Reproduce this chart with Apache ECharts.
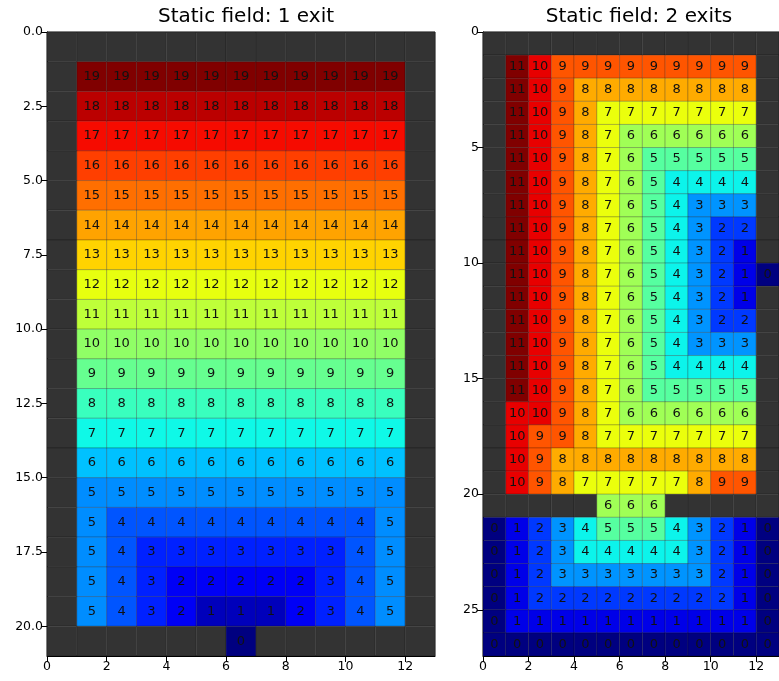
<!DOCTYPE html>
<html>
<head>
<meta charset="utf-8">
<script src="https://cdn.jsdelivr.net/npm/echarts@6/dist/echarts.min.js"></script>
<style>html,body{margin:0;padding:0;background:#fff}#c{width:779px;height:681px}</style>
</head>
<body>
<div id="c"></div>
<script>
const W = null; // wall cell

const title1 = 'Static field: 1 exit';
const title2 = 'Static field: 2 exits';

const field1 = [
  [W,W,W,W,W,W,W,W,W,W,W,W,W],
  [W,19,19,19,19,19,19,19,19,19,19,19,W],
  [W,18,18,18,18,18,18,18,18,18,18,18,W],
  [W,17,17,17,17,17,17,17,17,17,17,17,W],
  [W,16,16,16,16,16,16,16,16,16,16,16,W],
  [W,15,15,15,15,15,15,15,15,15,15,15,W],
  [W,14,14,14,14,14,14,14,14,14,14,14,W],
  [W,13,13,13,13,13,13,13,13,13,13,13,W],
  [W,12,12,12,12,12,12,12,12,12,12,12,W],
  [W,11,11,11,11,11,11,11,11,11,11,11,W],
  [W,10,10,10,10,10,10,10,10,10,10,10,W],
  [W,9,9,9,9,9,9,9,9,9,9,9,W],
  [W,8,8,8,8,8,8,8,8,8,8,8,W],
  [W,7,7,7,7,7,7,7,7,7,7,7,W],
  [W,6,6,6,6,6,6,6,6,6,6,6,W],
  [W,5,5,5,5,5,5,5,5,5,5,5,W],
  [W,5,4,4,4,4,4,4,4,4,4,5,W],
  [W,5,4,3,3,3,3,3,3,3,4,5,W],
  [W,5,4,3,2,2,2,2,2,3,4,5,W],
  [W,5,4,3,2,1,1,1,2,3,4,5,W],
  [W,W,W,W,W,W,0,W,W,W,W,W,W]
];

const field2 = [
  [W,W,W,W,W,W,W,W,W,W,W,W,W],
  [W,11,10,9,9,9,9,9,9,9,9,9,W],
  [W,11,10,9,8,8,8,8,8,8,8,8,W],
  [W,11,10,9,8,7,7,7,7,7,7,7,W],
  [W,11,10,9,8,7,6,6,6,6,6,6,W],
  [W,11,10,9,8,7,6,5,5,5,5,5,W],
  [W,11,10,9,8,7,6,5,4,4,4,4,W],
  [W,11,10,9,8,7,6,5,4,3,3,3,W],
  [W,11,10,9,8,7,6,5,4,3,2,2,W],
  [W,11,10,9,8,7,6,5,4,3,2,1,W],
  [W,11,10,9,8,7,6,5,4,3,2,1,0],
  [W,11,10,9,8,7,6,5,4,3,2,1,W],
  [W,11,10,9,8,7,6,5,4,3,2,2,W],
  [W,11,10,9,8,7,6,5,4,3,3,3,W],
  [W,11,10,9,8,7,6,5,4,4,4,4,W],
  [W,11,10,9,8,7,6,5,5,5,5,5,W],
  [W,10,10,9,8,7,6,6,6,6,6,6,W],
  [W,10,9,9,8,7,7,7,7,7,7,7,W],
  [W,10,9,8,8,8,8,8,8,8,8,8,W],
  [W,10,9,8,7,7,7,7,7,8,9,9,W],
  [W,W,W,W,W,6,6,6,W,W,W,W,W],
  [0,1,2,3,4,5,5,5,4,3,2,1,0],
  [0,1,2,3,4,4,4,4,4,3,2,1,0],
  [0,1,2,3,3,3,3,3,3,3,2,1,0],
  [0,1,2,2,2,2,2,2,2,2,2,1,0],
  [0,1,1,1,1,1,1,1,1,1,1,1,0],
  [0,0,0,0,0,0,0,0,0,0,0,0,0]
];

const xTicks1 = [0, 2, 4, 6, 8, 10, 12];
const yTicks1 = [0, 2.5, 5, 7.5, 10, 12.5, 15, 17.5, 20];
const xTicks2 = [0, 2, 4, 6, 8, 10, 12];
const yTicks2 = [0, 5, 10, 15, 20, 25];

// matplotlib 'jet' colormap (256-entry LUT)
const jetSeg = {
  r: [[0,0],[0.35,0],[0.66,1],[0.89,1],[1,0.5]],
  g: [[0,0],[0.125,0],[0.375,1],[0.64,1],[0.91,0],[1,0]],
  b: [[0,0.5],[0.11,1],[0.34,1],[0.65,0],[1,0]]
};
function seg(pts, t) {
  for (let i = 1; i < pts.length; i++) {
    if (t <= pts[i][0]) {
      const a = pts[i-1], b = pts[i];
      return a[1] + (b[1]-a[1]) * (t - a[0]) / (b[0] - a[0]);
    }
  }
  return pts[pts.length-1][1];
}
function jet(t) {
  let idx = Math.floor(t * 256); if (idx > 255) idx = 255; if (idx < 0) idx = 0;
  const u = idx / 255;
  return 'rgb(' + Math.round(seg(jetSeg.r,u)*255) + ',' + Math.round(seg(jetSeg.g,u)*255) + ',' + Math.round(seg(jetSeg.b,u)*255) + ')';
}

function toData(field) {
  const out = [];
  field.forEach((row, r) => row.forEach((v, c) => out.push([c, r, v === null ? -1 : v])));
  return out;
}
function maxOf(field) {
  let m = 0; field.forEach(row => row.forEach(v => { if (v !== null && v > m) m = v; })); return m;
}

function makeRender(vmax) {
  return function (params, api) {
    const x = api.value(0), y = api.value(1), v = api.value(2);
    const p0 = api.coord([x, y]), p1 = api.coord([x + 1, y + 1]);
    const rx = Math.min(p0[0], p1[0]), ry = Math.min(p0[1], p1[1]);
    const rw = Math.abs(p1[0] - p0[0]), rh = Math.abs(p1[1] - p0[1]);
    const wall = v < 0;
    const children = [{
      type: 'rect',
      shape: { x: rx, y: ry, width: rw, height: rh },
      style: { fill: wall ? '#333333' : jet(v / vmax), stroke: 'rgba(0,0,0,0.22)', lineWidth: 1 }
    }];
    if (!wall) {
      children.push({
        type: 'text',
        style: {
          x: rx + rw / 2, y: ry + rh / 2, text: String(v),
          align: 'center', verticalAlign: 'middle',
          fontSize: 13, fontFamily: 'DejaVu Sans', fill: '#111'
        }
      });
    }
    return { type: 'group', children: children };
  };
}

function axisCommon(ticks, fmt) {
  return {
    type: 'value',
    axisLine: { show: true, onZero: false, lineStyle: { color: '#000', width: 1 } },
    axisTick: { show: true, length: 6, customValues: ticks, lineStyle: { color: '#000', width: 1 } },
    axisLabel: { customValues: ticks, formatter: fmt, color: '#000', fontSize: 12.5, fontFamily: 'DejaVu Sans', margin: 4 },
    splitLine: { show: false }
  };
}

const rows1 = field1.length, cols1 = field1[0].length;
const rows2 = field2.length, cols2 = field2[0].length;

const option = {
  animation: false,
  backgroundColor: '#fff',
  title: [
    { text: title1, left: 241, top: 2, textAlign: 'center', textStyle: { fontSize: 20, fontWeight: 'normal', color: '#000', fontFamily: 'DejaVu Sans' } },
    { text: title2, left: 634, top: 2, textAlign: 'center', textStyle: { fontSize: 20, fontWeight: 'normal', color: '#000', fontFamily: 'DejaVu Sans' } }
  ],
  grid: [
    { left: 47, top: 32, width: 388, height: 624, show: true, borderColor: '#000', borderWidth: 1, backgroundColor: 'transparent', containLabel: false },
    { left: 483, top: 32, width: 301, height: 624, show: true, borderColor: '#000', borderWidth: 1, backgroundColor: 'transparent', containLabel: false }
  ],
  xAxis: [
    Object.assign(axisCommon(xTicks1, v => String(v)), { gridIndex: 0, min: 0, max: cols1, position: 'bottom' }),
    Object.assign(axisCommon(xTicks2, v => String(v)), { gridIndex: 1, min: 0, max: cols2, position: 'bottom' })
  ],
  yAxis: [
    Object.assign(axisCommon(yTicks1, v => v.toFixed(1)), { gridIndex: 0, min: 0, max: rows1, inverse: true, position: 'left' }),
    Object.assign(axisCommon(yTicks2, v => String(v)), { gridIndex: 1, min: 0, max: rows2, inverse: true, position: 'left' })
  ],
  series: [
    { type: 'custom', xAxisIndex: 0, yAxisIndex: 0, renderItem: makeRender(maxOf(field1)), data: toData(field1), encode: { x: 0, y: 1 }, clip: true, z: 1 },
    { type: 'custom', xAxisIndex: 1, yAxisIndex: 1, renderItem: makeRender(maxOf(field2)), data: toData(field2), encode: { x: 0, y: 1 }, clip: true, z: 1 }
  ]
};

const chart = echarts.init(document.getElementById('c'), null, { renderer: 'canvas' });
chart.setOption(option);
</script>
</body>
</html>
